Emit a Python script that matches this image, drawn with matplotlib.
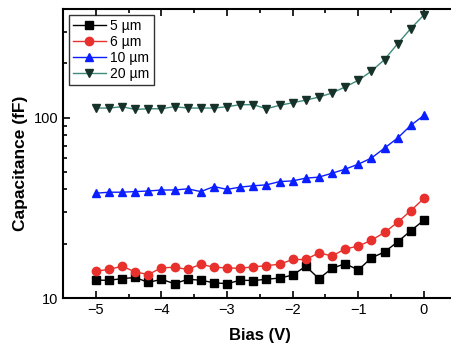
import numpy as np
import matplotlib.pyplot as plt
from matplotlib.ticker import LogLocator, NullFormatter, MultipleLocator

plt.rcParams['font.family'] = ['Liberation Sans', 'DejaVu Sans']

# Напряжение смещения, В
bias = [-5.0, -4.8, -4.6, -4.4, -4.2, -4.0, -3.8, -3.6, -3.4, -3.2, -3.0, -2.8, -2.6,
        -2.4, -2.2, -2.0, -1.8, -1.6, -1.4, -1.2, -1.0, -0.8, -0.6, -0.4, -0.2, 0.0]

# Ёмкость, фФ
c5 = [12.55, 12.55, 12.8, 13.0, 12.2, 12.7, 12.0, 12.7, 12.55, 12.15, 12.0, 12.55, 12.5,
      12.7, 12.9, 13.4, 15.0, 12.8, 14.6, 15.5, 14.3, 16.7, 18.0, 20.5, 23.6, 27.0]
c6 = [14.1, 14.4, 15.0, 13.95, 13.5, 14.7, 14.8, 14.4, 15.4, 14.8, 14.7, 14.6, 14.9,
      15.1, 15.4, 16.35, 16.35, 17.8, 17.1, 18.7, 19.4, 20.9, 23.1, 26.3, 30.5, 35.7]
c10 = [38.1, 38.6, 38.6, 38.9, 39.2, 39.7, 39.7, 40.3, 38.9, 41.5, 40.0, 41.2, 41.9,
       42.4, 44.2, 44.6, 46.2, 46.8, 49.2, 51.8, 55.2, 59.7, 67.8, 77.1, 90.6, 103.0]
c20 = [113, 113, 115, 111, 112, 112, 115, 113, 113, 113, 115, 118, 118,
       112, 117, 121, 125, 130, 137, 148, 161, 181, 210, 257, 312, 371]

labels = ['5 µm', '6 µm', '10 µm', '20 µm']

fig = plt.figure(figsize=(4.51, 3.49), dpi=100)
ax = fig.add_axes([0.1397, 0.1461, 0.873, 0.828])

ax.plot(bias, c5, '-s', color='black', ms=5.2, lw=1, label=labels[0])
ax.plot(bias, c6, '-o', color='#e8302c', ms=6, lw=1, label=labels[1])
ax.plot(bias, c10, '-^', color='#0a1eff', ms=6.3, lw=1, label=labels[2])
ax.plot(bias, c20, '-v', color='#3f8a7c', mfc='#163229', mec='#163229', ms=6.3, lw=1,
        label=labels[3])

ax.set_yscale('log')
ax.set_xlim(-5.5, 0.5)
ax.set_ylim(10, 400)
ax.xaxis.set_major_locator(MultipleLocator(1))
ax.xaxis.set_minor_locator(MultipleLocator(0.5))
ax.yaxis.set_major_locator(LogLocator(base=10))
ax.yaxis.set_minor_locator(LogLocator(base=10, subs=np.arange(2, 10)))
ax.yaxis.set_minor_formatter(NullFormatter())
ax.set_yticks([10, 100])
ax.set_yticklabels(['10', '100'])

ax.tick_params(which='both', direction='in', top=True, right=False, labelsize=10.5,
               width=1.2)
ax.tick_params(which='major', length=5)
ax.tick_params(which='minor', length=3)
for s in ax.spines.values():
    s.set_linewidth(1.5)

ax.set_xlabel('Bias (V)', fontsize=12, fontweight='bold', labelpad=8)
ax.set_ylabel('Capacitance (fF)', fontsize=12.5, fontweight='bold')
ax.yaxis.set_label_coords(-0.09, 0.465)

leg = ax.legend(loc='upper left', fontsize=10, frameon=True, fancybox=False,
                edgecolor='black', borderpad=0.3, labelspacing=0.15,
                handlelength=2.4, handletextpad=0.3, borderaxespad=0.4)
leg.get_frame().set_linewidth(1)

plt.savefig('out.png', dpi=100)
